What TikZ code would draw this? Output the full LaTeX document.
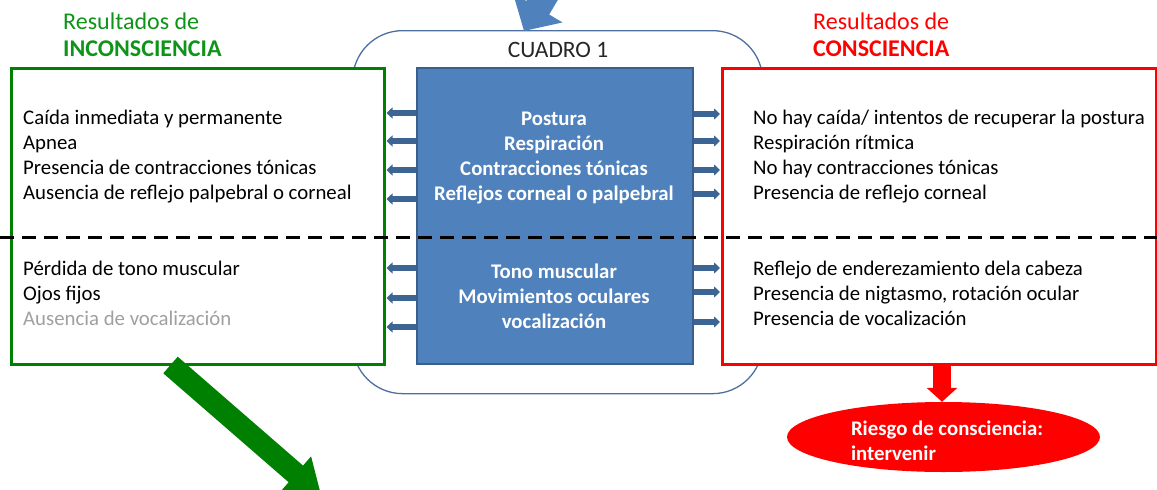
\documentclass[tikz,border=0pt]{standalone}
\usepackage{fontspec}
\setmainfont{Carlito}
\usetikzlibrary{arrows.meta,shapes.geometric}
\definecolor{gr}{HTML}{008000}
\definecolor{grtext}{HTML}{0E9418}
\definecolor{rd}{HTML}{FF0000}
\definecolor{bfill}{HTML}{4F81BD}
\definecolor{bborder}{HTML}{3A5F8C}
\definecolor{sarrowc}{HTML}{3D6594}
\definecolor{framec}{HTML}{4D70A0}
\definecolor{greytxt}{HTML}{A0A0A0}
\tikzset{
  body/.style={font=\fontsize{20.8}{25}\selectfont, inner sep=0pt, anchor=mid west, text=black, yshift=-4.5pt},
  headtxt/.style={font=\fontsize{24}{29}\selectfont, inner sep=0pt, anchor=mid west, yshift=-4.5pt},
  resbox/.style={draw, line width=2.5pt, fill=white, inner sep=0pt, anchor=north west},
  btxt/.style={font=\bfseries\fontsize{20.8}{25}\selectfont, text=white, align=center, inner sep=0pt, yshift=-4pt},
  sarrow/.style={draw=sarrowc, line width=5.5pt, -{Triangle[length=6pt,width=11pt]}, shorten >=1pt},
}
\begin{document}
\begin{tikzpicture}[x=1pt,y=-1pt]
\useasboundingbox (0,0) rectangle (1157,490);
\clip (0,0) rectangle (1157,490);

% frame
\node[draw=framec, line width=1.3pt, rounded corners=50pt, minimum width=410pt, minimum height=363pt, anchor=north west, inner sep=0pt] (frame) at (352,30) {};
\node[font=\fontsize{23.5}{28}\selectfont, text=black!85, inner sep=0pt] (cuadro) at (558,50) {CUADRO 1};

% top arrow
\coordinate (ta) at (566,-40);
\draw[bfill, line width=26.6pt, -{Triangle[length=27pt,width=56pt]}] (ta) -- (524,31);

% boxes
\node[resbox, draw=gr, minimum width=373pt, minimum height=296pt] (gbox) at (10,67) {};
\node[resbox, draw=rd, minimum width=434pt, minimum height=296pt] (rbox) at (721,67) {};
\node[draw=bborder, fill=bfill, line width=2pt, minimum width=276pt, minimum height=296pt, anchor=north west, inner sep=0pt] (blue) at (416,67) {};

% headers
\node[headtxt, text=grtext] (hg1) at (63,23) {Resultados de};
\node[headtxt, text=grtext, font=\bfseries\fontsize{24}{29}\selectfont] (hg2) at (63,50) {INCONSCIENCIA};
\node[headtxt, text=rd] (hr1) at (813,23) {Resultados de};
\node[headtxt, text=rd, font=\bfseries\fontsize{24}{29}\selectfont] (hr2) at (813,50) {CONSCIENCIA};

% dashed separator
\coordinate (dl) at (0,237);
\coordinate (dr) at (1157,237);
\draw[line width=3pt, dash pattern=on 14pt off 8pt] (dl) -- (dr);

% blue box text
\node[btxt] (bt1) at (554,154) {Postura\\Respiración\\Contracciones tónicas\\Reflejos corneal o palpebral};
\node[btxt] (bt2) at (554,292) {Tono muscular\\Movimientos oculares\\vocalización};

% left texts
\node[body] (l1) at (23,118) {Caída inmediata y permanente};
\node[body] (l2) at (23,143) {Apnea};
\node[body] (l3) at (23,168) {Presencia de contracciones tónicas};
\node[body] (l4) at (23,193) {Ausencia de reflejo palpebral o corneal};
\node[body] (l5) at (23,269) {Pérdida de tono muscular};
\node[body] (l6) at (23,294) {Ojos fijos};
\node[body, text=greytxt] (l7) at (23,319) {Ausencia de vocalización};

% right texts
\node[body] (r1) at (753,118) {No hay caída/ intentos de recuperar la postura};
\node[body] (r2) at (753,143) {Respiración rítmica};
\node[body] (r3) at (753,168) {No hay contracciones tónicas};
\node[body] (r4) at (753,193) {Presencia de reflejo corneal};
\node[body] (r5) at (753,269) {Reflejo de enderezamiento dela cabeza};
\node[body] (r6) at (753,294) {Presencia de nigtasmo, rotación ocular};
\node[body] (r7) at (753,319) {Presencia de vocalización};

% small arrows
\foreach \yy [count=\i] in {113,141,170,199,268,298,327} {
  \coordinate (la\i) at (0,\yy);
  \draw[sarrow] (blue.west |- la\i) -- (gbox.east |- la\i);
}
\foreach \yy [count=\i] in {114,141,170,194,268,292,322} {
  \coordinate (ra\i) at (0,\yy);
  \draw[sarrow] (blue.east |- ra\i) -- (rbox.west |- ra\i);
}

% risk ellipse and red arrow
\node[ellipse, fill=rd, minimum width=313pt, minimum height=70pt, inner sep=0pt] (risk) at (943.5,437) {};
\node[font=\bfseries\fontsize{20.8}{25}\selectfont, text=white, align=left, inner sep=0pt] (risktxt) at (947,441) {Riesgo de consciencia:\\intervenir};
\draw[rd, line width=18pt, -{Triangle[length=14pt,width=30pt]}] (rbox.south -| 942,0) -- (risk.north -| 942,0);

% green arrow
\coordinate (gs) at (170.5,365);
\coordinate (ge) at (321.5,496.2);
\draw[gr, line width=22pt, -{Triangle[length=34pt,width=44pt]}] (gs) -- (ge);
\end{tikzpicture}
\end{document}
